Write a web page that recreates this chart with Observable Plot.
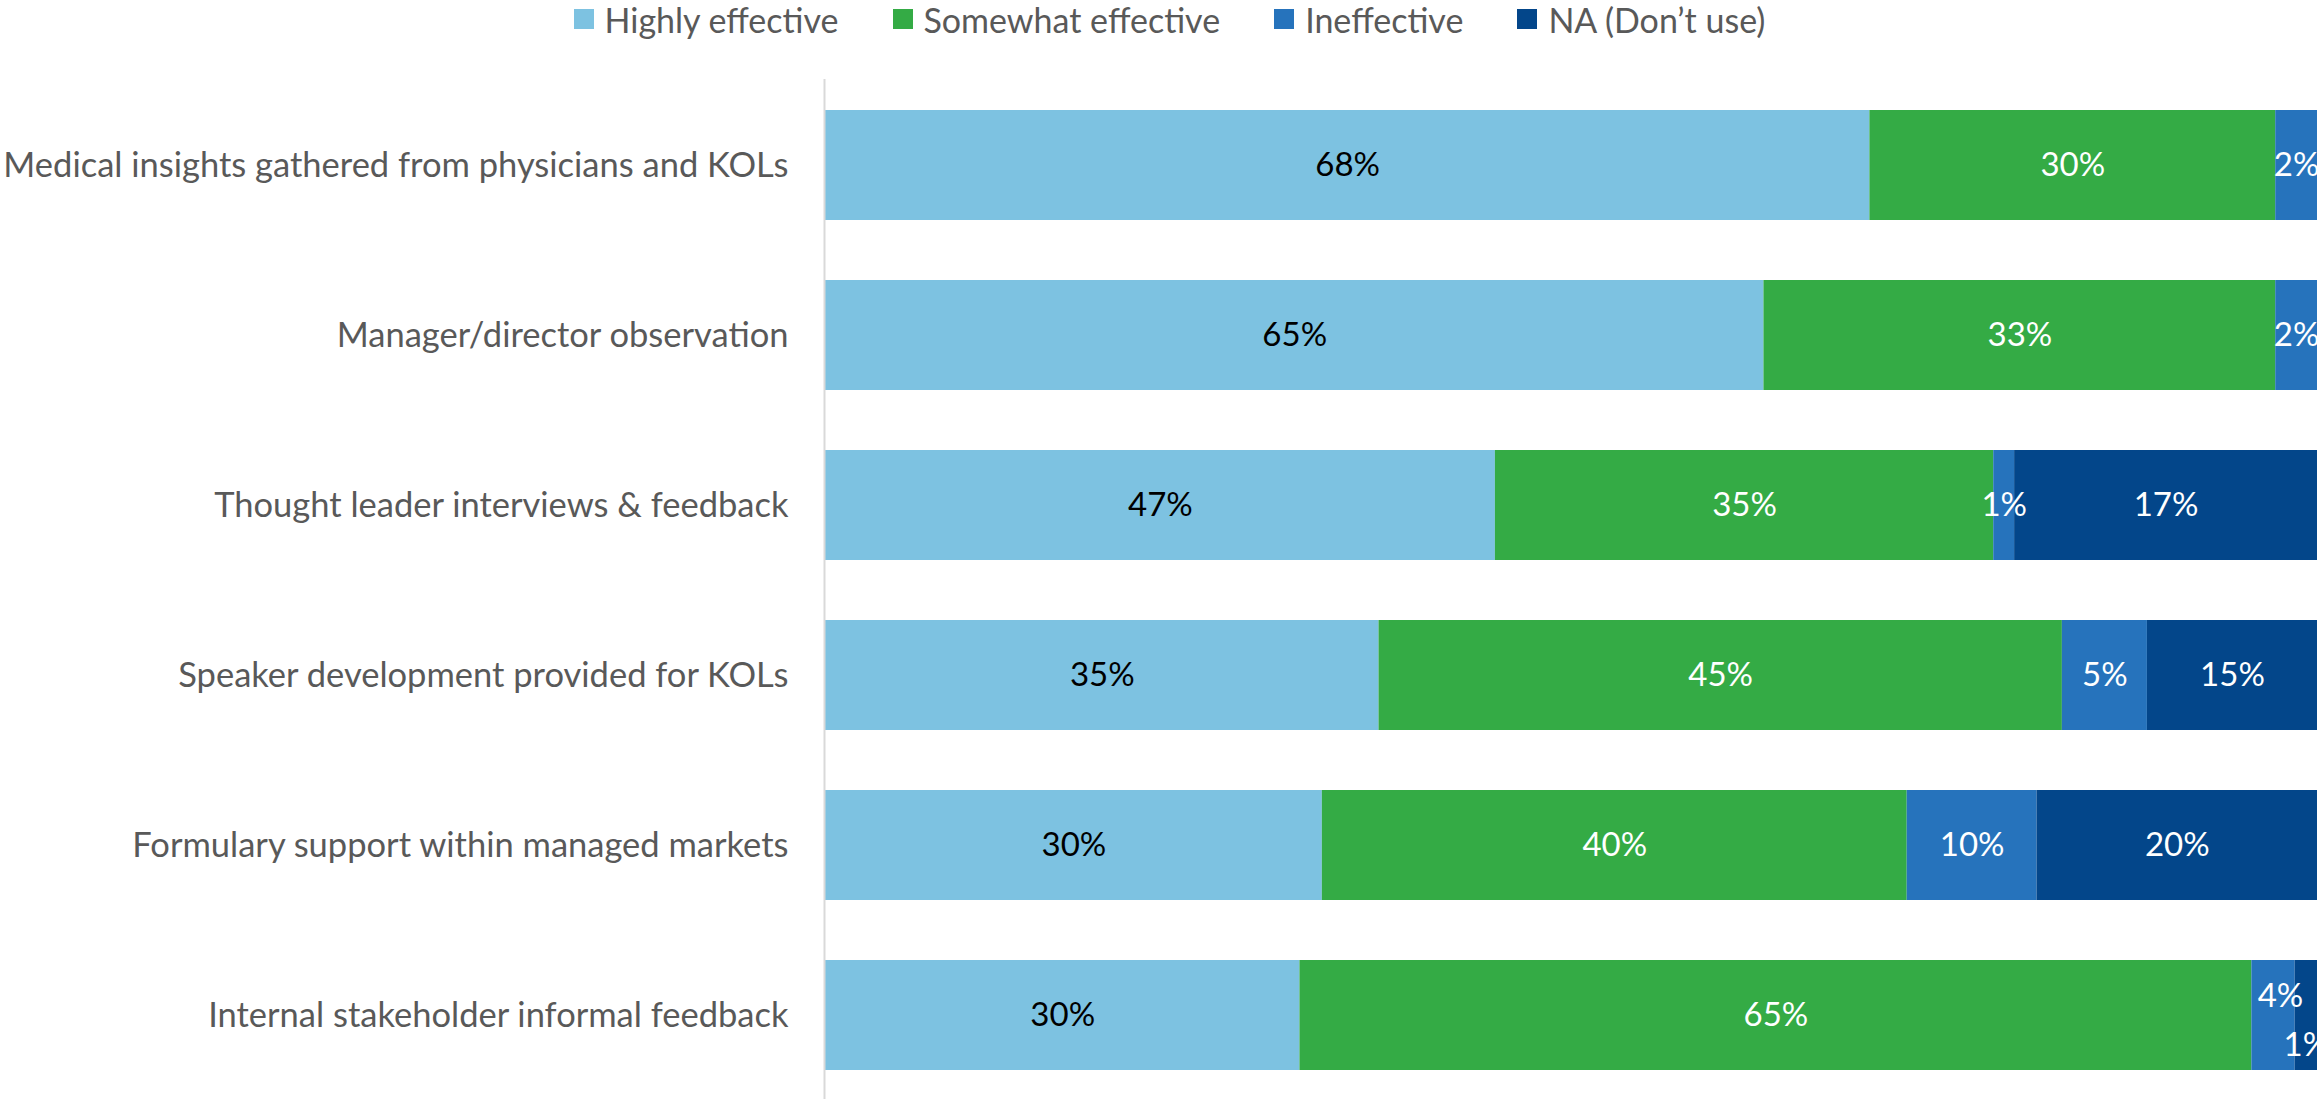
<!DOCTYPE html>
<html>
<head>
<meta charset="utf-8">
<script src="https://cdn.jsdelivr.net/npm/d3@7"></script>
<script src="https://cdn.jsdelivr.net/npm/@observablehq/plot@0.6"></script>
<style>
  html, body { margin: 0; padding: 0; background: #fff; }
  #legend {
    height: 60px; display: flex; justify-content: center; align-items: flex-start;
    padding-left: 18px; box-sizing: border-box;
    font-family: Lato, "Open Sans", sans-serif; font-size: 34px; color: #595959;
  }
  .item { display: flex; align-items: center; margin: 0 27px; height: 38px; }
  .sw { width: 20px; height: 20px; margin-right: 11px; }
  #chart svg { display: block; }
</style>
</head>
<body>
<div id="legend"></div>
<div id="chart"></div>
<script>
const categories = [
  "Medical insights gathered from physicians and KOLs",
  "Manager/director observation",
  "Thought leader interviews & feedback",
  "Speaker development provided for KOLs",
  "Formulary support within managed markets",
  "Internal stakeholder informal feedback"
];
const seriesNames = ["Highly effective", "Somewhat effective", "Ineffective", "NA (Don\u2019t use)"];

// Segment lengths as drawn (percent of bar)
const highlyValues   = [70.0, 62.9, 44.9, 37.1, 33.3, 31.8];
const somewhatValues = [27.2, 34.3, 33.4, 45.8, 39.2, 63.8];
const ineffValues    = [2.8, 2.8, 1.4, 5.7, 8.7, 2.9];
const naValues       = [0, 0, 20.3, 11.4, 18.8, 1.5];

// Data labels as printed
const highlyLabels   = ["68%", "65%", "47%", "35%", "30%", "30%"];
const somewhatLabels = ["30%", "33%", "35%", "45%", "40%", "65%"];
const ineffLabels    = ["2%", "2%", "1%", "5%", "10%", "4%"];
const naLabels       = [null, null, "17%", "15%", "20%", "1%"];

const colors = {
  "Highly effective": "#7dc2e1",
  "Somewhat effective": "#34ab45",
  "Ineffective": "#2673bc",
  "NA (Don\u2019t use)": "#03468a"
};

const valueSets = [highlyValues, somewhatValues, ineffValues, naValues];
const labelSets = [highlyLabels, somewhatLabels, ineffLabels, naLabels];
const table = [];
categories.forEach((c, i) => {
  seriesNames.forEach((s, j) => {
    table.push({category: c, series: s, value: valueSets[j][i], label: labelSets[j][i]});
  });
});

// legend
const legend = document.getElementById("legend");
seriesNames.forEach(s => {
  const it = document.createElement("div");
  it.className = "item";
  const sw = document.createElement("div");
  sw.className = "sw";
  sw.style.background = colors[s];
  const tx = document.createElement("span");
  tx.textContent = s;
  it.appendChild(sw); it.appendChild(tx);
  legend.appendChild(it);
});

const lastCat = categories[categories.length - 1];
const isUp = d => d.category === lastCat && d.series === "Ineffective";
const isDown = d => d.category === lastCat && d.series === "NA (Don\u2019t use)";
const labelFill = d => d.series === "Highly effective" ? "#000000" : "#ffffff";
const textBase = {
  x: "value", y: "category", z: "series",
  fill: labelFill, fontSize: 33, fontFamily: "Lato, 'Open Sans', sans-serif"
};

const chart = Plot.plot({
  width: 2321,
  height: 1039,
  marginLeft: 825,
  marginRight: 4,
  marginTop: 19,
  marginBottom: 0,
  style: {fontFamily: "Lato, 'Open Sans', sans-serif", background: "#fff"},
  x: {domain: [0, 100], axis: null},
  y: {domain: categories, range: [19, 1041], paddingInner: 0.354, paddingOuter: 0.177, label: null,
      tickSize: 0, tickPadding: 37},
  color: {type: "identity"},
  marks: [
    Plot.barX(table, Plot.stackX({x: "value", y: "category", z: "series", fill: d => colors[d.series]})),
    Plot.text(table, Plot.stackX({...textBase, text: d => (isUp(d) || isDown(d) || d.label == null) ? "" : d.label})),
    Plot.text(table, Plot.stackX({...textBase, text: d => isUp(d) ? d.label : "", dy: -19, dx: 7})),
    Plot.text(table, Plot.stackX({...textBase, text: d => isDown(d) ? d.label : "", dy: 30})),
    Plot.ruleX([0], {stroke: "#d9d9d9", strokeWidth: 2, dx: -1}),
    Plot.axisY({tickSize: 0, tickPadding: 37, fontSize: 34.5, fill: "#595959", label: null})
  ]
});
document.getElementById("chart").appendChild(chart);
</script>
</body>
</html>
